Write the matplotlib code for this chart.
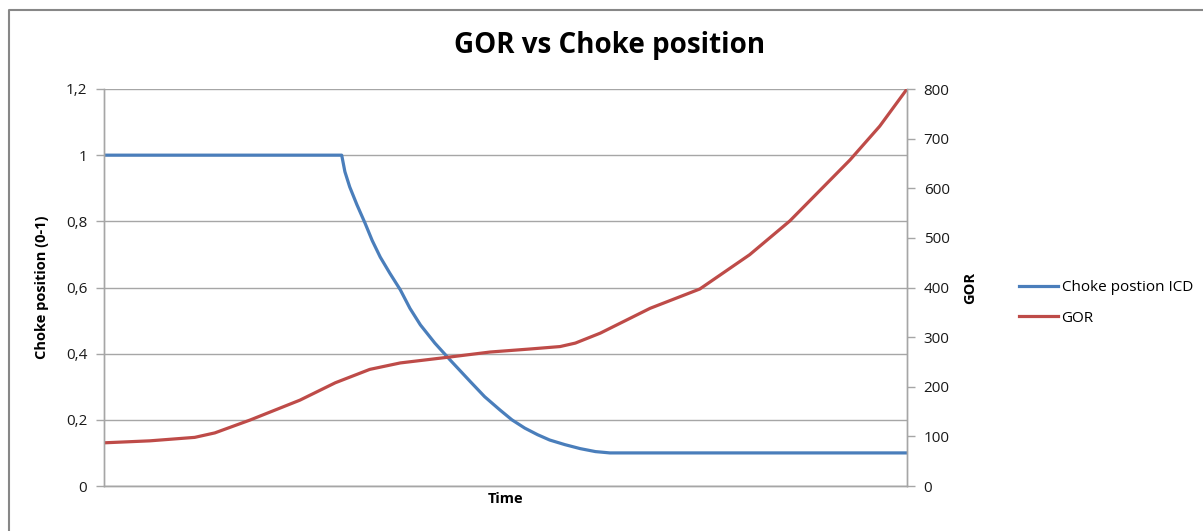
import matplotlib
matplotlib.use("Agg")
import matplotlib.pyplot as plt
from matplotlib.lines import Line2D

plt.rcParams['font.family'] = ['Open Sans', 'DejaVu Sans']

# Choke position (left axis), time in % of the run
t_choke = [0, 29.6, 30.0, 30.6, 31.5, 32.5, 33.4, 34.4, 35.6, 36.9, 38.1, 39.4, 41.2, 43.1,
           45.6, 47.4, 49.3, 50.8, 52.4, 54.0, 55.5, 57.4, 59.3, 61.2, 63.0, 100]
choke = [1.0, 1.0, 0.95, 0.904, 0.85, 0.795, 0.742, 0.692, 0.643, 0.593, 0.537, 0.487, 0.432, 0.381,
         0.316, 0.27, 0.23, 0.2, 0.175, 0.155, 0.139, 0.125, 0.113, 0.104, 0.1, 0.1]

# GOR (right axis)
t_gor = [0, 5.7, 11.3, 13.8, 18.2, 24.4, 28.8, 33.1, 36.9, 43.1, 48.1, 53.0, 56.8, 58.7,
         61.8, 64.9, 68.0, 74.2, 80.4, 85.4, 92.9, 96.6, 100]
gor = [87, 91, 98, 107, 133, 173, 208, 235, 248, 260, 270, 276, 281, 288,
       308, 333, 358, 397, 466, 534, 657, 725, 800]

left_ticks = [0, 0.2, 0.4, 0.6, 0.8, 1, 1.2]
left_labels = ["0", "0,2", "0,4", "0,6", "0,8", "1", "1,2"]
right_ticks = [0, 100, 200, 300, 400, 500, 600, 700, 800]

blue = "#4A7EBB"
red = "#BE4B48"
grey = "#a6a6a6"

fig = plt.figure(figsize=(12.03, 5.31), dpi=100)
ax = fig.add_axes([104 / 1203, 1 - 486 / 531, (907 - 104) / 1203, (486 - 89) / 531])
ax2 = ax.twinx()

# outer chart border (only left and top edges visible)
fig.lines.append(Line2D([9 / 1203, 9 / 1203, 1.0], [0.0, 1 - 10 / 531, 1 - 10 / 531],
                        transform=fig.transFigure, color="#878787", linewidth=1.5))

l1, = ax.plot(t_choke, choke, color=blue, linewidth=2.3, label="Choke postion ICD")
l2, = ax2.plot(t_gor, gor, color=red, linewidth=2.3, label="GOR")

ax.set_xlim(0, 100)
ax.set_ylim(0, 1.2)
ax2.set_ylim(0, 800)
ax.set_yticks(left_ticks)
ax.set_yticklabels(left_labels)
ax2.set_yticks(right_ticks)
ax.set_xticks([])
ax.yaxis.grid(True, color=grey, linewidth=1)
ax.set_axisbelow(True)

for a in (ax, ax2):
    a.spines['top'].set_visible(False)
    for s in ('left', 'right', 'bottom'):
        a.spines[s].set_color(grey)
        a.spines[s].set_linewidth(1)
    a.tick_params(axis='y', colors=grey, labelcolor="#1a1a1a", labelsize=11, length=6, width=1, pad=6)

ax.set_xlabel("Time", fontsize=10.5, fontweight="bold", labelpad=4)
ax.set_ylabel("Choke position (0-1)", fontsize=10.5, fontweight="bold", labelpad=12)
ax2.set_ylabel("GOR", fontsize=10.5, fontweight="bold", labelpad=10)

fig.text(610 / 1203, 1 - 46 / 531, "GOR vs Choke position", ha="center", va="center",
         fontsize=20, fontweight="bold")

fig.legend([l1, l2], ["Choke postion ICD", "GOR"], loc="center left",
           bbox_to_anchor=(1005 / 1203, 1 - 303 / 531), frameon=False, fontsize=11,
           handlelength=2.6, handletextpad=0.2, labelspacing=1.0)

fig.savefig("out.png", dpi=100)
